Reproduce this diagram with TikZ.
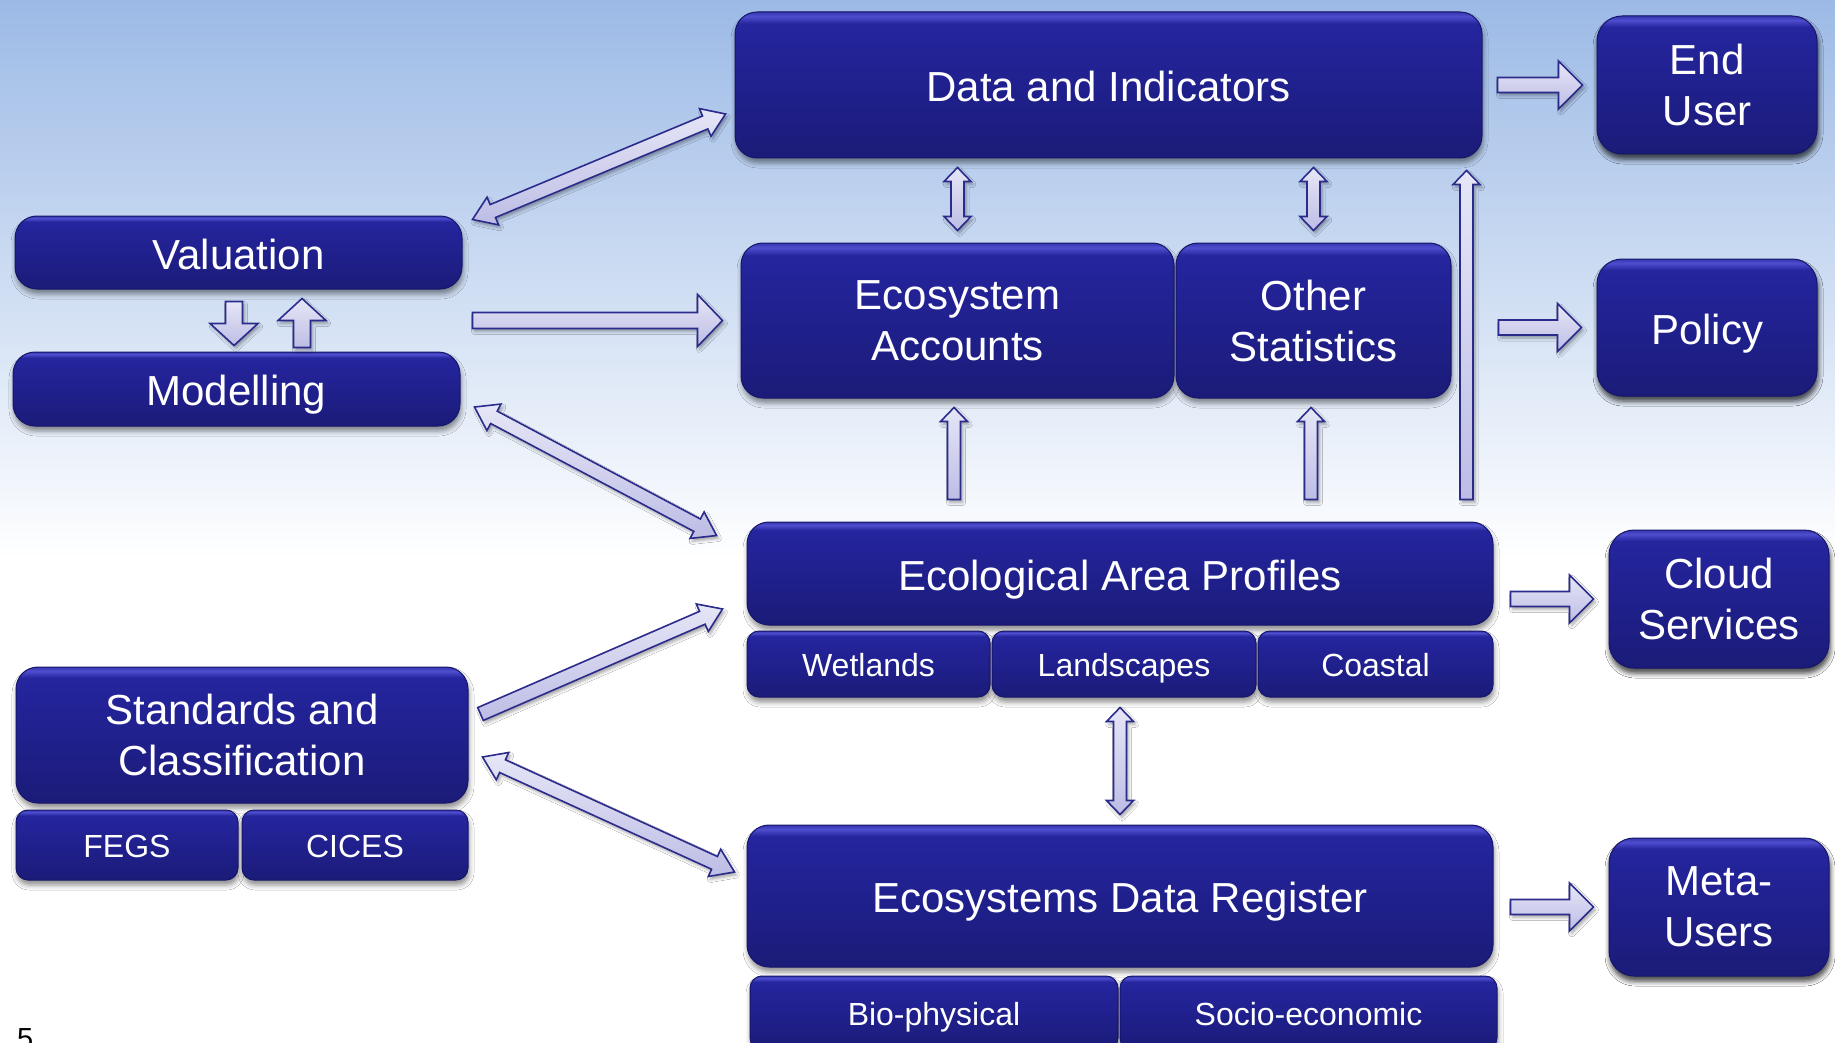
\documentclass[tikz,border=0pt]{standalone}
\usepackage{fontspec}
\setmainfont{Liberation Sans}
\usetikzlibrary{calc, shadows.blur}

\definecolor{bgtop}{HTML}{9CBAE6}
\definecolor{boxlo}{HTML}{1B1B78}
\definecolor{boxmid}{HTML}{20208E}
\definecolor{boxhi}{HTML}{25259E}
\definecolor{boxhl}{HTML}{4E4ECF}
\definecolor{boxtop}{HTML}{3636B0}
\definecolor{boxedge}{HTML}{16166A}
\definecolor{arrline}{HTML}{2B2B8C}
\definecolor{arrlight}{HTML}{E6E6F7}
\definecolor{arrdark}{HTML}{BDBDE5}

% box body: dark at the bottom, thin light band along the top edge
\pgfdeclareverticalshading{boxfill}{100bp}{color(0bp)=(boxlo); color(25bp)=(boxlo); color(50bp)=(boxmid); color(71bp)=(boxhi); color(73.5bp)=(boxhl); color(75bp)=(boxtop); color(100bp)=(boxtop)}

\tikzset{
  panel/.style={shading=boxfill, draw=boxedge, line width=1pt, rounded corners=#1,
    text=white, align=center, inner sep=0pt,
    blur shadow={shadow xshift=1pt, shadow yshift=-5pt, shadow blur radius=5pt, shadow opacity=45}},
  panel/.default=22pt,
  bigbox/.style={panel=22pt, font=\fontsize{42}{51}\selectfont},
  subbox/.style={panel=12pt, font=\fontsize{32}{38}\selectfont, text height=25pt, text depth=0pt},
  oneline/.style={text height=33pt, text depth=0pt},
  blockarrow/.style={draw=arrline, line width=1.6pt, line join=miter,
    top color=arrlight, bottom color=arrdark,
    blur shadow={shadow xshift=2pt, shadow yshift=-3pt, shadow blur radius=3pt, shadow opacity=35}},
}

% #1 from, #2 to, #3 half shaft, #4 half head, #5 head length
\newcommand\onearrow[5]{%
  \coordinate (s) at #1; \coordinate (t) at #2;
  \coordinate (h) at ($(t)!#5!(s)$);
  \draw[blockarrow] ($(s)!#3!90:(t)$) -- ($(h)!#3!-90:(s)$) -- ($(h)!#4!-90:(s)$) -- (t)
    -- ($(h)!#4!90:(s)$) -- ($(h)!#3!90:(s)$) -- ($(s)!#3!-90:(t)$) -- cycle;}
\newcommand\twoarrow[5]{%
  \coordinate (s) at #1; \coordinate (t) at #2;
  \coordinate (hs) at ($(s)!#5!(t)$); \coordinate (ht) at ($(t)!#5!(s)$);
  \draw[blockarrow] (s) -- ($(hs)!#4!90:(t)$) -- ($(hs)!#3!90:(t)$) -- ($(ht)!#3!-90:(s)$)
    -- ($(ht)!#4!-90:(s)$) -- (t) -- ($(ht)!#4!90:(s)$) -- ($(ht)!#3!90:(s)$)
    -- ($(hs)!#3!-90:(t)$) -- ($(hs)!#4!-90:(t)$) -- cycle;}
\newcommand\fatarrow[2]{\onearrow{#1}{#2}{7.5pt}{24pt}{24pt}}
\newcommand\thinarrow[2]{\onearrow{#1}{#2}{6.5pt}{13.5pt}{14pt}}
\newcommand\thintwo[2]{\twoarrow{#1}{#2}{6.5pt}{13.5pt}{14pt}}
\newcommand\slanttwo[2]{\twoarrow{#1}{#2}{7pt}{15pt}{22pt}}

\begin{document}
\begin{tikzpicture}[x=1pt, y=-1pt]
\useasboundingbox (0,0) rectangle (1835,1043);

% sky behind the chart
\fill[white] (0,0) rectangle (1835,1043);
\fill[top color=bgtop, bottom color=white] (0,0) rectangle (1835,560);

% left column
\node[bigbox, oneline, minimum width=447, minimum height=73] (val) at (238.5,252.5) {Valuation};
\node[bigbox, oneline, minimum width=447, minimum height=74] (model) at (236.5,389) {Modelling};
\node[bigbox, minimum width=452, minimum height=136] (std) at (242,735) {Standards and\\Classification};
\node[subbox, minimum width=222, minimum height=70] (fegs) at (127,845) {FEGS};
\node[subbox, minimum width=226, minimum height=70] (cices) at (355,845) {CICES};

% middle column
\node[bigbox, oneline, minimum width=747, minimum height=146] (data) at (1108.5,85) {Data and Indicators};
\node[bigbox, minimum width=433, minimum height=155] (ecoacc) at (957.5,320.5) {Ecosystem\\Accounts};
\node[bigbox, minimum width=275, minimum height=155] (otherstat) at (1313.5,320.5) {Other\\Statistics};
\node[bigbox, oneline, minimum width=746, minimum height=103] (eap) at (1120,573.5) {Ecological Area Profiles};
\node[subbox, minimum width=243, minimum height=66] (wet) at (868.5,664) {Wetlands};
\node[subbox, minimum width=264, minimum height=66] (land) at (1124,664) {Landscapes};
\node[subbox, minimum width=235, minimum height=66] (coast) at (1375.5,664) {Coastal};
\node[bigbox, oneline, minimum width=746, minimum height=142] (edr) at (1120,896) {Ecosystems Data Register};
\node[subbox, minimum width=368, minimum height=74] (bio) at (934,1013) {Bio-physical};
\node[subbox, minimum width=377, minimum height=74] (socio) at (1308.5,1013) {Socio-economic};

% users on the right
\node[bigbox, panel=25pt, minimum width=220, minimum height=138] (enduser) at (1707,85) {End\\User};
\node[bigbox, panel=25pt, oneline, minimum width=220, minimum height=137] (policy) at (1707,327.5) {Policy};
\node[bigbox, panel=25pt, minimum width=220, minimum height=138] (cloud) at (1719,599) {Cloud\\Services};
\node[bigbox, panel=25pt, minimum width=220, minimum height=138] (meta) at (1719,907) {Meta-\\Users};

% flows
\slanttwo{($(val.north east)+(10,4)$)}{($(data.west)+(-9,29)$)}
\onearrow{($(val.south)+(-4.5,12)$)}{($(model.north)+(-2.5,-6)$)}{8.5pt}{24pt}{22pt}
\onearrow{($(model.north)+(65.5,-4)$)}{($(val.south)+(63.5,9)$)}{8.5pt}{24pt}{22pt}
\onearrow{($(val.east |- ecoacc.west)+(10,0)$)}{($(ecoacc.west)+(-18,0)$)}{8pt}{26pt}{25pt}
\slanttwo{($(model.east)+(14,18)$)}{($(eap.north west)+(-30,14)$)}
\onearrow{($(std.east)+(12,-21)$)}{($(eap.west)+(-24,35.5)$)}{7pt}{15pt}{22pt}
\slanttwo{($(std.east)+(14,22)$)}{($(edr.west)+(-12,-24)$)}

\thintwo{($(ecoacc.north |- data.south)+(0,9)$)}{($(ecoacc.north)+(0,-12)$)}
\thintwo{($(otherstat.north |- data.south)+(0,9)$)}{($(otherstat.north)+(0,-12)$)}
\thinarrow{($(ecoacc.south |- eap.north)+(-3.5,-22)$)}{($(ecoacc.south)+(-3.5,9)$)}
\thinarrow{($(otherstat.south |- eap.north)+(-2.5,-22)$)}{($(otherstat.south)+(-2.5,9)$)}
\thinarrow{($(otherstat.east |- eap.north)+(15,-22)$)}{($(otherstat.east |- data.south)+(15,12)$)}
\thintwo{($(edr.north |- land.south)+(0,10)$)}{($(edr.north)+(0,-10)$)}

\fatarrow{($(data.east)+(15,0)$)}{($(enduser.west)+(-14,0)$)}
\fatarrow{($(data.east |- policy.west)+(16,0)$)}{($(policy.west)+(-15,0)$)}
\fatarrow{($(eap.east |- cloud.west)+(17,0)$)}{($(cloud.west)+(-15,0)$)}
\fatarrow{($(edr.east |- meta.west)+(17,0)$)}{($(meta.west)+(-15,0)$)}

% slide number
\node[anchor=base west, inner sep=0pt, font=\fontsize{29}{30}\selectfont] (pagenum) at (17,1048) {5};
\end{tikzpicture}
\end{document}
